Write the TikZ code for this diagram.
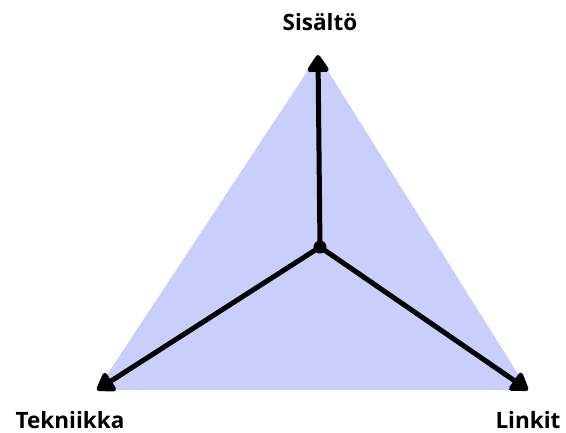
\documentclass[tikz,border=0pt]{standalone}
\usepackage{fontspec}
\setmainfont{Open Sans}
\usetikzlibrary{arrows.meta}
\definecolor{areablue}{RGB}{201,207,250}
\begin{document}
\begin{tikzpicture}[
            x=1pt,
            y=-1pt,
            label/.style={
                font=\fontsize{22.5}{26}\selectfont\bfseries,
                inner sep=0pt,
                anchor=base
            },
            axis/.style={
                line width=5pt,
                -{Triangle[round,width=24pt,length=19pt]}
            }
        ]
            \useasboundingbox (0,0) rectangle (566,432);

            \coordinate (top) at (318,55);
            \coordinate (left) at (97,390);
            \coordinate (right) at (528,390);
            \coordinate (mid) at (320,247);

            \fill[areablue] (top)--(left)--(right)--cycle;

            \draw[axis] (mid)--(top);
            \draw[axis] (mid)--(left);
            \draw[axis] (mid)--(right);
            \fill (mid) circle (6.5pt);

            \node[label] (sisalto) at (320,30) {Sisältö};
            \node[label] (tekniikka) at (70,428) {Tekniikka};
            \node[label] (linkit) at (528,428) {Linkit};
        \end{tikzpicture}
\end{document}
